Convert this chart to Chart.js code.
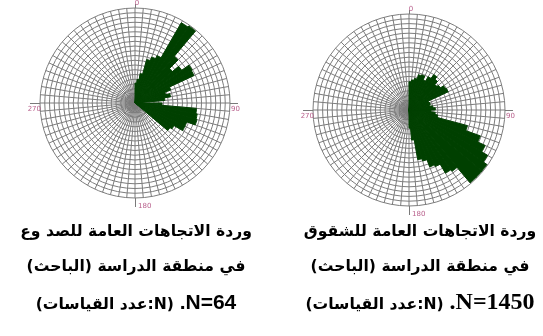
<!DOCTYPE html>
<html><head><meta charset="utf-8">
<script src="https://cdn.jsdelivr.net/npm/chart.js@4/dist/chart.umd.min.js"></script>
<style>
html,body{margin:0;padding:0;background:#fff;width:543px;height:336px;overflow:hidden;position:relative}
canvas{position:absolute}
.cap{position:absolute;width:290px;text-align:center;font-family:"DejaVu Sans",sans-serif;font-weight:bold;font-size:15.6px;color:#000;line-height:35px}
.cap div{white-space:nowrap}
.n1{font-family:"Liberation Sans",Arial,sans-serif;font-size:21px}
.n2{font-family:"Liberation Serif","Times New Roman",serif;font-size:24px}
</style></head><body>
<canvas id="roseFaults" width="230" height="216" style="left:20px;top:0px"></canvas>
<canvas id="roseJoints" width="240" height="226" style="left:300px;top:0px"></canvas>
<div class="cap" style="left:-9px;top:214px">
  <div dir="rtl">وردة الاتجاهات العامة للصد وع</div>
  <div dir="rtl">في منطقة الدراسة (الباحث)</div>
  <div><span dir="rtl">(N:عدد القياسات)</span><span dir="ltr" class="n1">&nbsp;.N=64</span></div>
</div>
<div class="cap" style="left:275px;top:214px">
  <div dir="rtl">وردة الاتجاهات العامة للشقوق</div>
  <div dir="rtl">في منطقة الدراسة (الباحث)</div>
  <div><span dir="rtl">(N:عدد القياسات)</span><span dir="ltr" class="n2">&nbsp;.N=1450</span></div>
</div>
<script>
// bin start azimuths (degrees), 5-degree classes
const binStarts = [0,5,10,15,20,25,30,35,40,45,50,55,60,65,70,75,80,85,90,95,100,105,110,115,120,125,130,135,140,145,150,155,160,165,170,175,
  180,185,190,195,200,205,210,215,220,225,230,235,240,245,250,255,260,265,270,275,280,285,290,295,300,305,310,315,320,325,330,335,340,345,350,355];
// faults rose (N=64), values in grid-ring units
const faultValues = [4.2,5,6.3,9.5,10.3,11,19.5,19.8,12.8,10.3,12,13.9,13.7,8,6.7,7.6,6.3,1.7,5.7,13,13.3,13.5,11.6,11.6,9.5,9,0,0,0,0,0,0,0,0,0,0,
  0,0,0,0,0,0,0,0,0,0,0,0,0,0,0,0,0,0,0,0,0,0,0,0,0,0,0,0,0,0,0,0,0,0,0,0];
// joints rose (N=1450)
const jointValues = [5.9,6.3,6.7,7.6,7.8,6.9,8,9,8.4,7.6,8,8.8,9,4.4,4.6,4.4,5,5.5,4.6,5.5,6.1,12.6,15.8,17.5,18.9,19.8,19.8,19.8,15.6,15.2,13,12.6,11,10.5,6.3,3.8,
  0,0,0,0,0,0,0,0,0,0,0,0,0,0,0,0,0,0,0,0,0,0,0,0,0,0,0,0,0,0,0,0,0,0,0,0];
const ringMax = 20;
const ringStep = 1;
const directionLabels = ['0','90','180','270'];

const compassPlugin = {
  id: 'compass',
  afterDraw(chart) {
    const s = chart.scales.r, ctx = chart.ctx;
    const cx = s.xCenter, cy = s.yCenter, R = s.drawingArea;
    ctx.save();
    ctx.strokeStyle = '#7a7a7a'; ctx.lineWidth = 1;
    ctx.fillStyle = '#b8608c';
    ctx.font = '7px "DejaVu Sans"';
    ctx.beginPath();
    ctx.moveTo(cx + 0.5, cy - R); ctx.lineTo(cx + 0.5, cy - R - 4);
    ctx.moveTo(cx + R, cy + 0.5); ctx.lineTo(cx + R + 8, cy + 0.5);
    ctx.moveTo(cx + 0.5, cy + R); ctx.lineTo(cx + 0.5, cy + R + 9);
    ctx.moveTo(cx - R - 10, cy + 0.5); ctx.lineTo(cx - R, cy + 0.5);
    ctx.stroke();
    ctx.textBaseline = 'alphabetic';
    ctx.textAlign = 'center'; ctx.fillText(directionLabels[0], cx + 2, cy - R - 3);
    ctx.textAlign = 'left'; ctx.fillText(directionLabels[1], cx + R + 1, cy + 8);
    ctx.textAlign = 'left'; ctx.fillText(directionLabels[2], cx + 3, cy + R + 10);
    ctx.textAlign = 'right'; ctx.fillText(directionLabels[3], cx - R + 1, cy + 8);
    ctx.restore();
  }
};

function makeRose(id, values, pad) {
  new Chart(document.getElementById(id), {
    type: 'polarArea',
    data: {
      labels: binStarts,
      datasets: [{ data: values, backgroundColor: '#004000', borderColor: '#004000', borderWidth: 1, borderAlign: 'center' }]
    },
    options: {
      responsive: false,
      animation: false,
      layout: { padding: pad },
      plugins: { legend: { display: false }, tooltip: { enabled: false } },
      scales: {
        r: {
          min: 0, max: ringMax,
          ticks: { display: false, stepSize: ringStep },
          grid: { circular: true, color: '#7c7c7c', lineWidth: 1 },
          angleLines: { display: true, color: '#7c7c7c', lineWidth: 1 },
          pointLabels: { display: false }
        }
      }
    },
    plugins: [compassPlugin]
  });
}
makeRose('roseFaults', faultValues, { left: 20, right: 20, top: 8, bottom: 18 });
makeRose('roseJoints', jointValues, { left: 13, right: 35, top: 14, bottom: 20 });
</script>
</body></html>
